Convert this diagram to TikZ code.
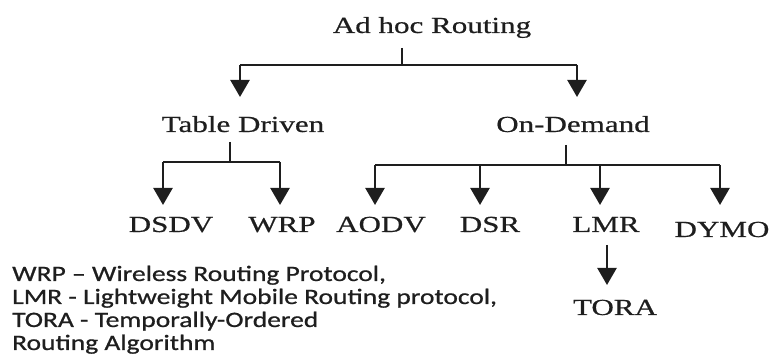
\documentclass[tikz,border=0pt]{standalone}
\usepackage{fontspec}
\usetikzlibrary{arrows.meta}
\newfontfamily\srf[FakeStretch=1.35,FakeBold=0.6]{Liberation Serif}
\newfontfamily\legf[FakeStretch=1.25,FakeBold=0.8]{Carlito}
\definecolor{ink}{HTML}{1E1E1E}
\tikzset{
  lbl/.style={font=\srf\fontsize{23}{26}\selectfont, text=ink, anchor=base, inner sep=0pt},
  legline/.style={font=\legf\fontsize{22}{26}\selectfont, text=ink, anchor=base west, inner sep=0pt},
  conn/.style={draw=ink, line width=1.5pt},
  arr/.style={draw=ink, line width=2.4pt, -{Triangle[width=19pt,length=17pt]}},
}
\begin{document}
\begin{tikzpicture}[x=1pt,y=1pt]
\useasboundingbox (0,0) rectangle (772,358);
% nodes
\node[lbl] (adhoc) at (432,325) {Ad hoc Routing};
\node[lbl] (td) at (243,226) {Table Driven};
\node[lbl] (od) at (573,226) {On-Demand};
\node[lbl] (dsdv) at (171,126) {DSDV};
\node[lbl] (wrp) at (282,126) {WRP};
\node[lbl] (aodv) at (381,126) {AODV};
\node[lbl] (dsr) at (490,126) {DSR};
\node[lbl] (lmr) at (606,126) {LMR};
\node[lbl] (dymo) at (722,121) {DYMO};
\node[lbl] (tora) at (615,43) {TORA};
% legend
\node[legline] (l1) at (12,77) {WRP \textendash{} Wireless Routing Protocol,};
\node[legline] (l2) at (12,54) {LMR - Lightweight Mobile Routing protocol,};
\node[legline] (l3) at (12,31) {TORA - Temporally-Ordered};
\node[legline] (l4) at (12,8) {Routing Algorithm};
% junction coordinates
\coordinate (s0) at (402,310);
\coordinate (j0) at (402,293);
\coordinate (tTD) at (240,261);
\coordinate (tOD) at (577,261);
\coordinate (s1) at (230,216);
\coordinate (j1) at (230,196);
\coordinate (tDSDV) at (163,153);
\coordinate (tWRP) at (280,153);
\coordinate (s2) at (566,213);
\coordinate (j2) at (566,193);
\coordinate (tAODV) at (375,153);
\coordinate (tDSR) at (480,153);
\coordinate (tLMR) at (600,153);
\coordinate (tDYMO) at (720,153);
\coordinate (s3) at (607,113);
\coordinate (tTORA) at (607,73);
% connectors
\draw[conn] (s0) -- (j0);
\draw[conn] (tTD |- j0) -- (tOD |- j0);
\draw[arr] (tTD |- j0) -- (tTD);
\draw[arr] (tOD |- j0) -- (tOD);
\draw[conn] (s1) -- (j1);
\draw[conn] (tDSDV |- j1) -- (tWRP |- j1);
\draw[arr] (tDSDV |- j1) -- (tDSDV);
\draw[arr] (tWRP |- j1) -- (tWRP);
\draw[conn] (s2) -- (j2);
\draw[conn] (tAODV |- j2) -- (tDYMO |- j2);
\draw[arr] (tAODV |- j2) -- (tAODV);
\draw[arr] (tDSR |- j2) -- (tDSR);
\draw[arr] (tLMR |- j2) -- (tLMR);
\draw[arr] (tDYMO |- j2) -- (tDYMO);
\draw[arr] (s3) -- (tTORA);
\end{tikzpicture}
\end{document}
